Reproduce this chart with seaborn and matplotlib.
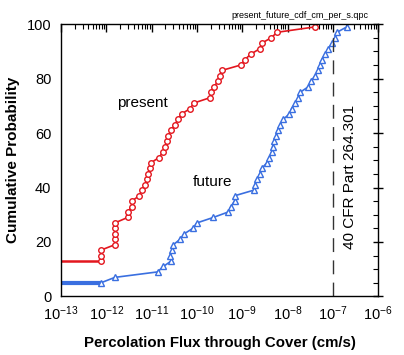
import numpy as np
import pandas as pd
import matplotlib
matplotlib.use('Agg')
import matplotlib.pyplot as plt
import matplotlib.ticker as mticker
import seaborn as sns

## 데이터 (log10 of flux in cm/s, cumulative probability in %)
present_log_flux = [-12.12, -12.12, -12.12, -11.81, -11.81, -11.81, -11.81, -11.81,
                    -11.53, -11.53, -11.44, -11.44, -11.27, -11.22, -11.14, -11.11,
                    -11.09, -11.03, -11.02, -10.84, -10.75, -10.70, -10.67, -10.64,
                    -10.57, -10.49, -10.42, -10.34, -10.15, -10.07, -9.71, -9.68,
                    -9.62, -9.54, -9.50, -9.45, -9.03, -8.94, -8.81, -8.61,
                    -8.57, -8.36, -8.23, -7.39]
present_prob = list(range(13, 100, 2))

future_log_flux = [-12.12, -11.81, -10.87, -10.74, -10.57, -10.59, -10.54, -10.52,
                   -10.37, -10.28, -10.09, -10.00, -9.64, -9.31, -9.25, -9.17,
                   -9.16, -8.75, -8.72, -8.67, -8.61, -8.57, -8.46, -8.40,
                   -8.35, -8.33, -8.30, -8.25, -8.22, -8.16, -8.10, -7.96,
                   -7.91, -7.83, -7.76, -7.72, -7.54, -7.49, -7.39, -7.32,
                   -7.28, -7.24, -7.17, -7.10, -7.02, -6.95, -6.91, -6.69]
future_prob = list(range(5, 100, 2))

x_min, x_max = 1e-13, 1e-6
limit_flux = 1e-7

df_present = pd.DataFrame({'flux': np.power(10.0, present_log_flux), 'prob': present_prob})
df_future = pd.DataFrame({'flux': np.power(10.0, future_log_flux), 'prob': future_prob})

## 스타일
sns.set_style('white')
plt.rcParams['font.family'] = ['Liberation Sans', 'DejaVu Sans']
plt.rcParams['mathtext.fontset'] = 'custom'
plt.rcParams['mathtext.rm'] = 'Liberation Sans'
plt.rcParams['mathtext.it'] = 'Liberation Sans'
plt.rcParams['text.color'] = 'black'
plt.rcParams['axes.labelcolor'] = 'black'
plt.rcParams['xtick.color'] = 'black'
plt.rcParams['ytick.color'] = 'black'

red = '#e3161e'
blue = '#3a6fe0'

fig = plt.figure(figsize=(4.04, 3.55), dpi=100)
ax = fig.add_axes([0.151, 0.165, 0.785, 0.767])

## 아래쪽 평평한 구간
ax.plot([x_min, df_present['flux'].iloc[0]], [present_prob[0]] * 2, color=red, lw=1.8)
ax.plot([x_min, df_future['flux'].iloc[0]], [future_prob[0]] * 2, color=blue, lw=3.0)

## CDF 선
sns.lineplot(data=df_present, x='flux', y='prob', sort=False, estimator=None, ax=ax,
             color=red, lw=1.2, marker='o', ms=4, mfc='white', mec=red, mew=1.0)
sns.lineplot(data=df_future, x='flux', y='prob', sort=False, estimator=None, ax=ax,
             color=blue, lw=1.2, marker='^', ms=5, mfc='white', mec=blue, mew=1.0)

## 기준선
ax.plot([limit_flux, limit_flux], [0, 98], color='#333333', lw=1.0, dashes=(10, 6))
ax.text(2.45e-7, 44, '40 CFR Part 264.301', rotation=90, ha='center', va='center', fontsize=11)

ax.text(10**-11.2, 71, 'present', ha='center', va='center', fontsize=11)
ax.text(10**-9.66, 42, 'future', ha='center', va='center', fontsize=11)

ax.set_xscale('log')
ax.set_xlim(x_min, x_max)
ax.set_ylim(0, 100)
ax.xaxis.set_major_locator(mticker.LogLocator(base=10, numticks=20))
ax.xaxis.set_minor_locator(mticker.LogLocator(base=10, subs=np.arange(2, 10), numticks=100))
ax.xaxis.set_minor_formatter(mticker.NullFormatter())
ax.yaxis.set_major_locator(mticker.MultipleLocator(20))
ax.yaxis.set_minor_locator(mticker.MultipleLocator(5))

for s in ax.spines.values():
    s.set_color('black')
    s.set_linewidth(1.0)

ax.tick_params(axis='x', which='major', direction='in', top=True, length=6, width=1,
               labelsize=10.5, pad=6)
ax.tick_params(axis='x', which='minor', direction='in', top=True, length=3.5, width=0.8)
ax.tick_params(axis='y', which='major', direction='inout', right=True, length=7, width=1,
               labelsize=10.5)
ax.tick_params(axis='y', which='minor', direction='in', right=True, length=3.5, width=0.8)

ax.set_xlabel('Percolation Flux through Cover (cm/s)', fontsize=10.8, fontweight='bold', labelpad=9)
ax.set_ylabel('Cumulative Probability', fontsize=11, fontweight='bold', labelpad=5)
fig.text(368 / 404, 1 - 16 / 355, 'present_future_cdf_cm_per_s.qpc', fontsize=6.5,
         ha='right', va='center')

fig.savefig('out.png', dpi=100)
